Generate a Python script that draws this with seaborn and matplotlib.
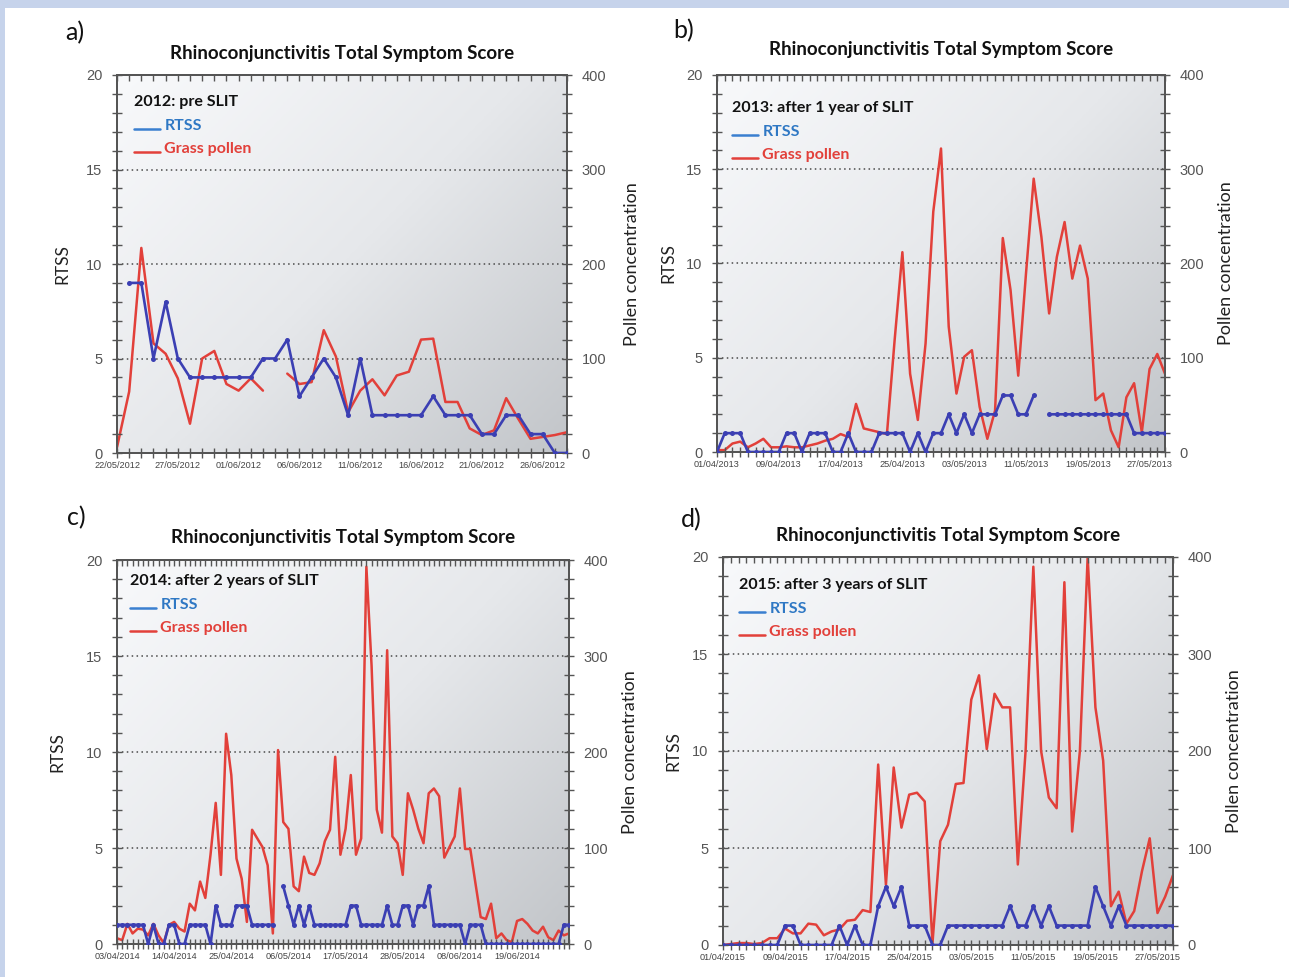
import numpy as np
import pandas as pd
import matplotlib
matplotlib.use("Agg")
import matplotlib.pyplot as plt
from matplotlib.colors import LinearSegmentedColormap
from matplotlib.lines import Line2D
from matplotlib.patches import Rectangle
from matplotlib.ticker import MultipleLocator
from matplotlib.legend_handler import HandlerLine2D
import seaborn as sns

nan = np.nan

# ---------------- data ----------------
# a) 2012: pre SLIT  (daily, from 22/05/2012)
rtss_2012 = [nan, 9, 9, 5, 8, 5, 4, 4, 4, 4, 4, 4, 5, 5, 6, 3, 4, 5, 4, 2,
             5, 2, 2, 2, 2, 2, 3, 2, 2, 2, 1, 1, 2, 2, 1, 1, 0, 0]
pollen_2012 = [6, 65, 217, 116, 105, 79, 31, 100, 108, 73, 66, 79, 66, nan, 84, 73, 75, 130, 102, 43,
               66, 78, 61, 82, 86, 120, 121, 54, 54, 26, 19, 24, 58, 36, 15, 17, 19, 22]
ticks_2012 = ["22/05/2012", "27/05/2012", "01/06/2012", "06/06/2012",
              "11/06/2012", "16/06/2012", "21/06/2012", "26/06/2012"]

# b) 2013: after 1 year of SLIT (daily, from 01/04/2013)
rtss_2013 = [0, 1, 1, 1, 0, 0, 0, 0, 0, 1, 1, 0, 1, 1, 1, 0, 0, 1, 0, 0,
             0, 1, 1, 1, 1, 0, 1, 0, 1, 1, 2, 1, 2, 1, 2, 2, 2, 3, 3, 2,
             2, 3, nan, 2, 2, 2, 2, 2, 2, 2, 2, 2, 2, 2, 1, 1, 1, 1, 1]
pollen_2013 = [2, 2, 9, 11, 5, 9, 14, 5, 5, 6, 5, 5, 7, 9, 12, 14, 19, 16, 51, 25,
               23, 21, 19, 119, 212, 83, 34, 115, 255, 322, 133, 62, 101, 108, 48, 14, 44, 227, 172, 81,
               189, 290, 228, 147, 207, 244, 184, 219, 184, 55, 62, 23, 5, 58, 73, 21, 88, 104, 83]
ticks_2013 = ["01/04/2013", "09/04/2013", "17/04/2013", "25/04/2013",
              "03/05/2013", "11/05/2013", "19/05/2013", "27/05/2013"]

# c) 2014: after 2 years of SLIT (daily, from 03/04/2014)
rtss_2014 = [1, 1, 1, 1, 1, 1, 0, 1, 0, 0, 1, 1, 0, 0, 1, 1, 1, 1, 0, 2,
             1, 1, 1, 2, 2, 2, 1, 1, 1, 1, 1, nan, 3, 2, 1, 2, 1, 2, 1, 1,
             1, 1, 1, 1, 1, 2, 2, 1, 1, 1, 1, 1, 2, 1, 1, 2, 2, 1, 2, 2,
             3, 1, 1, 1, 1, 1, 1, 0, 1, 1, 1, 0, 0, 0, 0, 0, 0, 0, 0, 0,
             0, 0, 0, 0, 0, 0, 1, 1]
pollen_2014 = [6, 4, 21, 11, 16, 15, 9, 21, 9, 1, 20, 23, 16, 13, 42, 35, 65, 48, 93, 147,
               72, 219, 176, 89, 68, 23, 119, 110, 101, 82, 11, 202, 127, 120, 60, 55, 91, 74, 72, 84,
               107, 119, 195, 93, 120, 176, 93, 110, 393, 290, 140, 116, 306, 112, 105, 72, 157, 140, 120, 105,
               157, 162, 154, 90, 101, 112, 162, 99, 99, 63, 28, 26, 42, 6, 11, 4, 2, 24, 26, 21,
               14, 11, 18, 7, 4, 14, 9, 11]
ticks_2014 = ["03/04/2014", "14/04/2014", "25/04/2014", "06/05/2014",
              "17/05/2014", "28/05/2014", "08/06/2014", "19/06/2014"]

# d) 2015: after 3 years of SLIT (daily, from 01/04/2015)
rtss_2015 = [0, 0, 0, 0, 0, 0, 0, 0, 1, 1, 0, 0, 0, 0, 0, 1, 0, 1, 0, 0,
             2, 3, 2, 3, 1, 1, 1, 0, 0, 1, 1, 1, 1, 1, 1, 1, 1, 2, 1, 1,
             2, 1, 2, 1, 1, 1, 1, 1, 3, 2, 1, 2, 1, 1, 1, 1, 1, 1, 1]
pollen_2015 = [0, 1, 2, 2, 1, 2, 7, 7, 17, 12, 12, 22, 21, 10, 14, 16, 25, 26, 36, 34,
               186, 62, 183, 121, 155, 157, 148, 2, 107, 124, 166, 167, 253, 278, 202, 259, 245, 245, 83, 200,
               390, 200, 152, 141, 374, 117, 200, 400, 245, 190, 40, 55, 22, 35, 76, 110, 33, 50, 72]
ticks_2015 = ["01/04/2015", "09/04/2015", "17/04/2015", "25/04/2015",
              "03/05/2015", "11/05/2015", "19/05/2015", "27/05/2015"]

titles = ["2012: pre SLIT", "2013: after 1 year of SLIT",
          "2014: after 2 years of SLIT", "2015: after 3 years of SLIT"]
letters = ["a)", "b)", "c)", "d)"]
main_title = "Rhinoconjunctivitis Total Symptom Score"

# ---------------- style ----------------
sns.set_style("white")
plt.rcParams["font.family"] = ["Lato", "DejaVu Sans"]

BLUE = "#3b3fb3"
LEG_BLUE = "#3a7fd0"
LEG_BLUE_TXT = "#2f78c4"
RED = "#e2403a"
AXC = "#555555"
TICKFONT = "Liberation Sans"


class BaselineHandler(HandlerLine2D):
    """Legend line drawn at the text baseline (like an underscore)."""
    def create_artists(self, legend, orig_handle, xdescent, ydescent, width, height, fontsize, trans):
        arts = super().create_artists(legend, orig_handle, xdescent, ydescent, width, height, fontsize, trans)
        for a in arts:
            if isinstance(a, Line2D):
                a.set_ydata(np.asarray(a.get_ydata(), dtype=float) - 0.42 * height)
        return arts


bg_cmap = LinearSegmentedColormap.from_list("bg", ["#f8f9fb", "#e6e8eb", "#c2c5c9"])
gx, gy = np.meshgrid(np.linspace(0, 1, 256), np.linspace(0, 1, 256))
grad = (0.55 * gx + 0.45 * gy)

fig = plt.figure(figsize=(12.89, 9.77), dpi=100, facecolor="#c6d3eb")
fig.patches.append(Rectangle((5 / 1289, 0), 1, 1 - 8 / 977, transform=fig.transFigure,
                             facecolor="white", edgecolor="none", zorder=-10))

W, H = 1289, 977
boxes = [(117, 75, 567, 453), (717, 75, 1165, 452), (117, 560, 569, 944), (723, 557, 1173, 945)]
letter_pos = [(75, 33), (684, 31), (76, 518), (691, 520)]
legend_top = [95, 101, 574, 578]
legend_left = [134, 732, 130, 739]
rtss_label_x = [70, 676, 65, 681]
pollen_label_x = [624, 1218, 622, 1226]
title_y = [53, 50, 537, 535]

panels = [(rtss_2012, pollen_2012, ticks_2012, 5),
          (rtss_2013, pollen_2013, ticks_2013, 8),
          (rtss_2014, pollen_2014, ticks_2014, 11),
          (rtss_2015, pollen_2015, ticks_2015, 8)]

for i, (rtss, pollen, ticks, step) in enumerate(panels):
    l, t, r, b = boxes[i]
    ax = fig.add_axes([l / W, 1 - b / H, (r - l) / W, (b - t) / H])
    ax2 = ax.twinx()
    ax.set_zorder(ax2.get_zorder() + 1)
    ax.patch.set_visible(False)

    ax2.imshow(grad, cmap=bg_cmap, extent=[0, 1, 0, 1], transform=ax2.transAxes,
               aspect="auto", zorder=0, interpolation="bilinear")

    n = len(rtss)
    df = pd.DataFrame({"day": np.arange(n), "rtss": rtss, "pollen": pollen})
    df["seg_r"] = df["rtss"].isna().cumsum()
    df["seg_p"] = df["pollen"].isna().cumsum()

    sns.lineplot(data=df.dropna(subset=["pollen"]), x="day", y="pollen", units="seg_p",
                 estimator=None, color=RED, lw=1.8, ax=ax2, legend=False, zorder=3)
    sns.lineplot(data=df.dropna(subset=["rtss"]), x="day", y="rtss", units="seg_r",
                 estimator=None, color=BLUE, lw=1.9, marker="o", markersize=3.6,
                 markeredgewidth=0, ax=ax, legend=False, zorder=3)

    # limits
    ax.set_xlim(0, n - 1)
    ax.set_ylim(0, 20)
    ax2.set_ylim(0, 400)

    # grid on pollen axis (same heights as RTSS 5,10,15)
    ax2.set_yticks([0, 100, 200, 300, 400])
    ax2.yaxis.set_minor_locator(MultipleLocator(20))
    ax2.yaxis.grid(True, which="major", linestyle=(0, (1, 2.2)), color="#4a4a4a", lw=1.1, zorder=1)
    ax2.set_axisbelow(True)

    ax.set_yticks([0, 5, 10, 15, 20])
    ax.yaxis.set_minor_locator(MultipleLocator(1))
    ax.set_xticks(list(range(0, n, step))[:len(ticks)])
    ax.set_xticklabels(ticks)
    ax.xaxis.set_minor_locator(MultipleLocator(1))

    ax.tick_params(axis="x", which="both", direction="inout", length=7, width=1, color=AXC,
                   bottom=True, top=False, labelsize=6.6, labelcolor="#444444", pad=2)
    ax.tick_params(axis="y", which="both", direction="inout", length=7, width=1, color=AXC,
                   left=True, right=False, labelsize=10.5, labelcolor="#555555", pad=7)
    ax2.tick_params(axis="y", which="both", direction="inout", length=7, width=1, color=AXC,
                    right=True, left=False, labelsize=10.5, labelcolor="#555555", pad=7)
    for lab in ax.get_xticklabels() + ax.get_yticklabels() + ax2.get_yticklabels():
        lab.set_fontfamily(TICKFONT)

    top = ax.secondary_xaxis("top")
    top.xaxis.set_major_locator(MultipleLocator(1))
    top.tick_params(axis="x", direction="in", length=4.5, width=1, color=AXC, labeltop=False)
    top.spines["top"].set_visible(False)

    for a in (ax, ax2):
        for s in a.spines.values():
            s.set_color(AXC)
            s.set_linewidth(1.4)

    ax.set_xlabel("")
    ax.set_ylabel("RTSS", fontsize=12.5, color="#222222")
    ax.yaxis.set_label_coords((rtss_label_x[i] - l) / (r - l), 0.5)
    ax2.set_ylabel("Pollen concentration", fontsize=13, color="#222222")
    ax2.yaxis.set_label_coords((pollen_label_x[i] - l) / (r - l), 0.5)

    ax.text(0.5, (b - title_y[i]) / (b - t), main_title, transform=ax.transAxes,
            ha="center", va="center", fontsize=13.5, fontweight="bold", color="#111111")
    fig.text(letter_pos[i][0] / W, 1 - letter_pos[i][1] / H, letters[i],
             ha="center", va="center", fontsize=18, color="#111111")

    handles = [Line2D([], [], color=LEG_BLUE, lw=1.8), Line2D([], [], color=RED, lw=1.8)]
    leg = ax.legend(handles, ["RTSS", "Grass pollen"], title=titles[i], loc="upper left",
                    bbox_to_anchor=((legend_left[i] - l) / (r - l), (b - legend_top[i]) / (b - t)),
                    frameon=False, alignment="left", handlelength=1.6, handletextpad=0.3,
                    labelspacing=0.55, borderaxespad=0, borderpad=0,
                    handler_map={Line2D: BaselineHandler()},
                    prop=dict(family="Lato", weight="bold", size=11.5),
                    title_fontproperties=dict(family="Lato", weight="bold", size=11.5))
    leg._legend_box.sep = 7
    leg.get_title().set_color("#111111")
    for txt, c in zip(leg.get_texts(), [LEG_BLUE_TXT, RED]):
        txt.set_color(c)

fig.savefig("out.png", dpi=100, facecolor=fig.get_facecolor())
